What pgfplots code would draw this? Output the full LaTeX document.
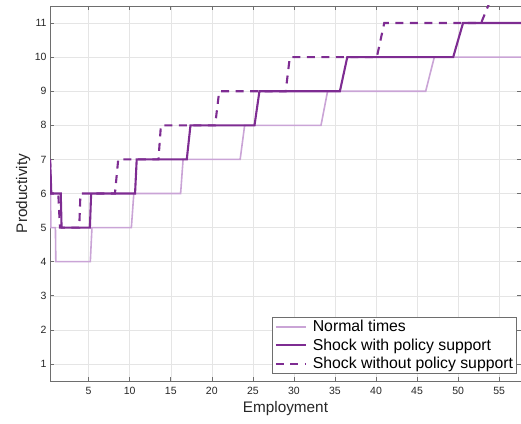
\documentclass[border=0pt]{standalone}
\usepackage{fontspec}
\setmainfont{Liberation Sans}
\usepackage{pgfplots}
\pgfplotsset{compat=1.18}
\definecolor{lightp}{RGB}{202,164,214}
\definecolor{darkp}{RGB}{126,44,146}
\definecolor{axgray}{RGB}{110,110,110}
\definecolor{txt}{RGB}{38,38,38}
\begin{document}
\begin{tikzpicture}[x=1pt,y=1pt]
\begin{axis}[
 scale only axis, width=471pt, height=375pt,
 xmin=0.29, xmax=57.66, ymin=0.5, ymax=11.5,
 xtick={5,10,...,55}, ytick={1,...,11},
 tick align=inside, tick pos=both,
 major tick length=4pt,
 grid=major, grid style={black!10, line width=0.5pt},
 axis line style={axgray, line width=0.6pt},
 tick style={axgray, line width=0.6pt},
 ticklabel style={font=\fontsize{10.5}{12}\selectfont, text=txt},
 xticklabel style={yshift=-2.5pt},
 /pgf/number format/assume math mode=true,
 xlabel={Employment}, ylabel={Productivity},
 label style={font=\fontsize{15.3}{17}\selectfont, text=txt},
 xlabel style={yshift=0pt},
 ylabel style={yshift=-2.5pt},
 legend style={at={(0.991,0.019)}, anchor=south east, font=\fontsize{15.8}{18}\selectfont, draw=axgray, inner sep=1.5pt, row sep=1.5pt, fill=white},
 legend cell align=left,
 legend image code/.code={\draw[#1] (0pt,0pt) -- (30pt,0pt); \path (-1pt,0pt) (34pt,0pt);},
]
\coordinate (ll) at (rel axis cs:0,0);
\coordinate (ur) at (rel axis cs:1,1);
\addplot[lightp, line width=1.6pt] coordinates {
(0.3,7) (0.35,6) (0.4,5) (0.95,5) (1.0,4) (5.2,4) (5.4,5) (10.2,5) (10.5,6) (16.2,6) (16.5,7) (23.45,7) (24.0,8) (33.3,8) (34.1,9) (46.05,9) (47.1,10) (57.7,10)};
\addlegendentry{Normal times}
\addplot[darkp, line width=2.1pt] coordinates {
(0.3,7) (0.45,6) (1.6,6) (1.7,5) (5.15,5) (5.3,6) (10.65,6) (10.85,7) (16.95,7) (17.4,8) (25.2,8) (25.8,9) (35.6,9) (36.5,10) (49.4,10) (50.6,11) (57.7,11)};
\addlegendentry{Shock with policy support}
\addplot[darkp, line width=2.1pt, dash pattern=on 8pt off 6.5pt] coordinates {
(0.3,7) (0.4,6) (1.3,6) (1.5,5) (3.85,5) (4.0,6) (8.2,6) (8.6,7) (13.5,7) (13.8,8) (20.4,8) (20.9,9) (29.0,9) (29.5,10) (40.1,10) (41.0,11) (52.8,11) (54.5,12) (57.7,12)};
\addlegendentry{Shock without policy support}
\end{axis}
\pgfresetboundingbox
\path[use as bounding box] ([shift={(-50pt,-42pt)}]ll) rectangle ([shift={(0pt,6pt)}]ur);
\end{tikzpicture}
\end{document}
